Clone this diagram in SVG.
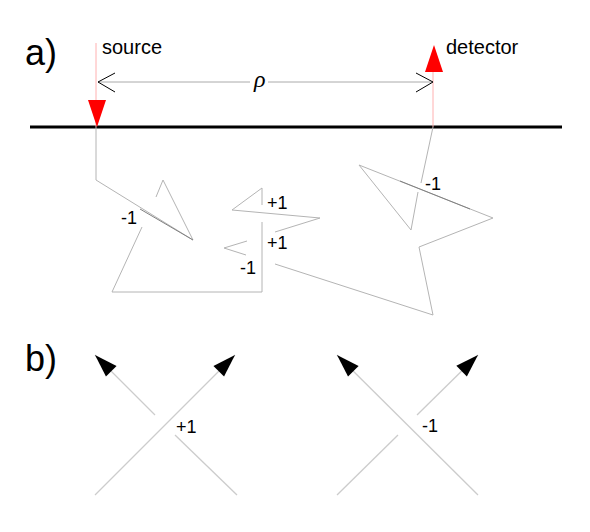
<svg xmlns="http://www.w3.org/2000/svg" width="590" height="532" viewBox="0 0 590 532">
<defs>
<style>
.t{font-family:"Liberation Sans",Arial,sans-serif;fill:#000}
.big{font-size:36px}
.lbl{font-size:20px}
.num{font-size:18px}
.knot{fill:none;stroke:#b4b4b4;stroke-width:1;stroke-linejoin:miter}
.over{fill:none;stroke:#808080;stroke-width:1}
.pink{stroke:#ffb0b0;stroke-width:1;fill:none}
.strand{stroke:#cccccc;stroke-width:1.3;fill:none}
.chev{fill:none;stroke:#000;stroke-width:1}
</style>
<marker id="ah" markerUnits="userSpaceOnUse" markerWidth="30" markerHeight="30" refX="0" refY="0" orient="auto" overflow="visible" viewBox="-25 -10 30 20">
<path d="M0,0 L-23,-7.5 L-23,7.5 z" fill="#000"/>
</marker>
</defs>
<rect width="590" height="532" fill="#fff"/>

<g id="label-a"><text class="t big" x="25" y="65">a)</text></g>
<g id="label-b"><text class="t big" x="25" y="371">b)</text></g>

<g id="ground"><line x1="30" y1="127" x2="562" y2="127" stroke="#000" stroke-width="3"/></g>

<g id="source">
<line class="pink" x1="96" y1="43" x2="96" y2="127"/>
<polygon points="88,100 106,100 97,127" fill="#ff0000"/>
<text class="t lbl" x="102" y="54">source</text>
</g>

<g id="detector">
<line class="pink" x1="433" y1="70" x2="433" y2="127"/>
<polygon points="434,45 425,72 443,72" fill="#ff0000"/>
<text class="t lbl" x="446" y="54">detector</text>
</g>

<g id="connectors">
<g id="rho-arrow">
<line x1="98" y1="82" x2="250" y2="82" stroke="#aaaaaa" stroke-width="1"/>
<line x1="268" y1="82" x2="433" y2="82" stroke="#aaaaaa" stroke-width="1"/>
<polyline class="chev" points="115,73 98,82 115,92"/>
<polyline class="chev" points="416,73 433,82 416,92"/>
</g>
<g id="knot">
<polyline class="knot" points="96,127 96,180 193,240 163,180 156,197"/>
<polyline class="knot" points="142,227 112,292 262,292 262,222"/>
<polyline class="knot" points="262,205 262,188 232,210 320,218 275,232"/>
<polyline class="knot" points="247,241 224,248 246,255"/>
<polyline class="knot" points="275,264 433,315 419,247 493,218 359,165 411,230 418,192"/>
<polyline class="knot" points="421,183 433,127"/>
<line class="over" x1="140" y1="209" x2="193" y2="240"/>
<line class="over" x1="400" y1="181" x2="470" y2="209"/>
</g>
<g id="crossing-plus">
<line class="strand" x1="95" y1="495" x2="235" y2="355" marker-end="url(#ah)"/>
<line class="strand" x1="237" y1="495" x2="175" y2="435"/>
<line class="strand" x1="155" y1="415" x2="95" y2="355" marker-end="url(#ah)"/>
</g>
<g id="crossing-minus">
<line class="strand" x1="478" y1="495" x2="337" y2="355" marker-end="url(#ah)"/>
<line class="strand" x1="337" y1="495" x2="398" y2="435"/>
<line class="strand" x1="417" y1="415" x2="478" y2="355" marker-end="url(#ah)"/>
</g>
</g>

<g id="labels">
<text x="254" y="87" font-family="'Liberation Serif',serif" font-style="italic" font-size="24">ρ</text>
<text class="t num" x="121" y="224">-1</text>
<text class="t num" x="267" y="209">+1</text>
<text class="t num" x="267" y="249">+1</text>
<text class="t num" x="240" y="274">-1</text>
<text class="t num" x="425" y="190">-1</text>
<text class="t num" x="176" y="433">+1</text>
<text class="t num" x="422" y="432">-1</text>
</g>
</svg>
